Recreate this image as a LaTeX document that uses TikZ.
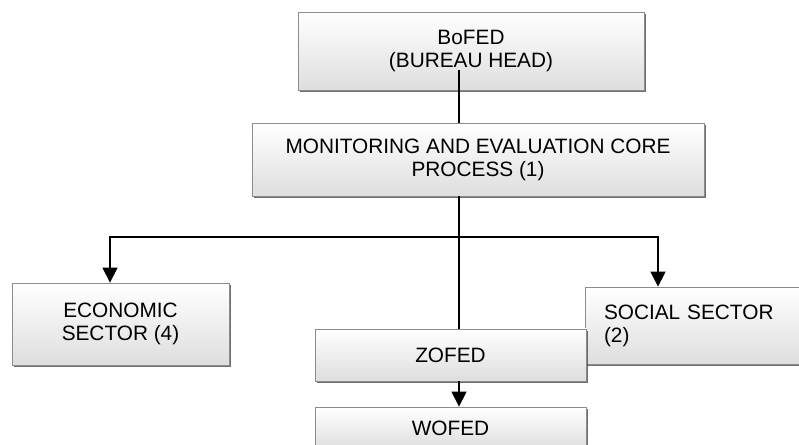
\documentclass[tikz,border=0pt]{standalone}
\usepackage{fontspec}
\setmainfont{Liberation Sans}
\usepackage{tikz}
\usetikzlibrary{arrows.meta,shadows}

\begin{document}
\begin{tikzpicture}[x=1pt,y=1pt,
  orgbox/.style={draw=black!45, line width=0.8pt, top color=white, bottom color=black!13,
    drop shadow={shadow xshift=1.6pt, shadow yshift=-1.6pt, fill=black!70, opacity=0.8},
    font=\fontsize{20.8}{23}\selectfont, align=center, inner sep=0pt},
  link/.style={black, line width=1.3pt},
  arr/.style={link, -{Triangle[width=15pt,length=15pt]}}]

\clip (0,0) rectangle (799,444);
\fill[white] (0,0) rectangle (799,444);

\node[orgbox, minimum width=346, minimum height=78] (bofed) at (471,393)
  {BoFED\\(BUREAU HEAD)};
\node[orgbox, minimum width=452, minimum height=73] (mande) at (478,284.5)
  {MONITORING AND EVALUATION CORE\\PROCESS (1)};

\node[orgbox, minimum width=217, minimum height=82] (econ) at (120.5,120)
  {ECONOMIC\\SECTOR (4)};
\node[orgbox, minimum width=230, minimum height=77, text width=192, align=left,
  inner xsep=19] (social) at (700,118.5)
  {SOCIAL SECTOR\\(2)};

\node[orgbox, minimum width=271, minimum height=52] (zofed) at (450.5,89) {ZOFED};
\node[orgbox, minimum width=271, minimum height=42] (wofed) at (450.5,16) {WOFED};

% spine of the chart
\coordinate (fork) at (459,207);

\draw[link] ([xshift=-12pt,yshift=20pt]bofed.south) -- ([xshift=-19pt]mande.north);
\draw[link] ([xshift=-19pt]mande.south) -- ([xshift=8.5pt]zofed.north);
\draw[arr] (fork) -| ([xshift=-10.5pt]econ.north);
\draw[arr] (fork) -| ([xshift=-42pt]social.north);
\draw[arr] ([xshift=8.5pt]zofed.south) -- ([xshift=8.5pt]wofed.north);

\end{tikzpicture}
\end{document}
